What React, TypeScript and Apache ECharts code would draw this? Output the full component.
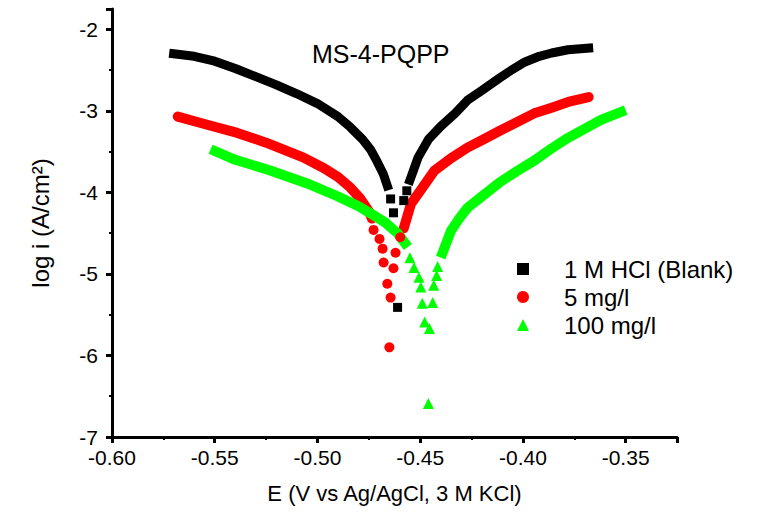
import React, { useEffect, useRef } from "react";
import * as echarts from "echarts";

// ---- Data (E in V vs Ag/AgCl, log i in A/cm2) ----
const blankCathodic: number[][] = [
  [-0.570, -2.30], [-0.560, -2.33], [-0.550, -2.39], [-0.540, -2.48], [-0.530, -2.58],
  [-0.520, -2.68], [-0.510, -2.79], [-0.500, -2.91], [-0.490, -3.07], [-0.484, -3.20],
  [-0.478, -3.35], [-0.474, -3.48], [-0.471, -3.62], [-0.468, -3.77], [-0.466, -3.92],
];
const blankAnodic: number[][] = [
  [-0.455, -3.85], [-0.451, -3.57], [-0.446, -3.35], [-0.440, -3.19], [-0.433, -3.03],
  [-0.427, -2.87], [-0.420, -2.75], [-0.411, -2.59], [-0.405, -2.49], [-0.399, -2.40],
  [-0.392, -2.33], [-0.386, -2.29], [-0.378, -2.25], [-0.368, -2.23],
];
const blankPoints: number[][] = [
  [-0.4644, -4.08], [-0.463, -4.25], [-0.461, -5.41], [-0.458, -4.10], [-0.4565, -3.98],
];

const mg5Cathodic: number[][] = [
  [-0.568, -3.07], [-0.555, -3.16], [-0.539, -3.27], [-0.525, -3.39], [-0.507, -3.57],
  [-0.497, -3.70], [-0.490, -3.81], [-0.484, -3.94], [-0.479, -4.08], [-0.475, -4.23],
  [-0.4735, -4.32],
];
const mg5Anodic: number[][] = [
  [-0.458, -4.44], [-0.4545, -4.14], [-0.450, -3.98], [-0.443, -3.73], [-0.435, -3.58],
  [-0.427, -3.45], [-0.420, -3.36], [-0.411, -3.24], [-0.403, -3.14], [-0.3945, -3.03],
  [-0.386, -2.96], [-0.378, -2.89], [-0.368, -2.83],
];
const mg5Points: number[][] = [
  [-0.4727, -4.46], [-0.4698, -4.57], [-0.4683, -4.69], [-0.4678, -4.86], [-0.466, -5.12],
  [-0.4644, -5.29], [-0.465, -5.90], [-0.463, -4.93], [-0.462, -4.74], [-0.4597, -4.55],
];

const mg100Cathodic: number[][] = [
  [-0.552, -3.47], [-0.540, -3.60], [-0.523, -3.73], [-0.505, -3.89], [-0.490, -4.05],
  [-0.480, -4.17], [-0.474, -4.26], [-0.467, -4.37], [-0.461, -4.50], [-0.456, -4.67],
];
const mg100Anodic: number[][] = [
  [-0.440, -4.80], [-0.435, -4.47], [-0.431, -4.32], [-0.427, -4.19], [-0.420, -4.05],
  [-0.411, -3.87], [-0.403, -3.74], [-0.3945, -3.61], [-0.386, -3.46], [-0.378, -3.33],
  [-0.370, -3.22], [-0.362, -3.11], [-0.350, -2.99],
];
const mg100Points: number[][] = [
  [-0.455, -4.80], [-0.453, -4.92], [-0.4506, -5.04], [-0.4497, -5.16], [-0.449, -5.36],
  [-0.4478, -5.59], [-0.4455, -5.67], [-0.446, -6.59], [-0.4439, -5.35], [-0.4434, -5.14],
  [-0.442, -5.02], [-0.4415, -4.91],
];

const seriesNames = ["1 M HCl (Blank)", "5 mg/l", "100 mg/l"];
const titleText = "MS-4-PQPP";
const xAxisName = "E (V vs Ag/AgCl, 3 M KCl)";
const yAxisName = "log i (A/cm²)";

const BLACK = "#000000";
const RED = "#ff0000";
const GREEN = "#00ff00";

export default function App() {
  const ref = useRef<HTMLDivElement>(null);
  useEffect(() => {
    if (!ref.current) return;
    const chart = echarts.init(ref.current, null, { renderer: "svg" });
    const font = "Liberation Sans, Arial, sans-serif";
    const lineSeries = (data: number[][], color: string, width: number, cap: string) => ({
      type: "line",
      data,
      showSymbol: false,
      symbol: "none",
      silent: true,
      lineStyle: { color, width, cap, join: "round" },
      z: 2,
    });
    const scatterSeries = (name: string, data: number[][], color: string, symbol: string, size: number) => ({
      type: "scatter",
      name,
      data,
      symbol,
      symbolSize: size,
      itemStyle: { color, opacity: 1 },
      z: 3,
    });
    chart.setOption({
      animation: false,
      backgroundColor: "#ffffff",
      textStyle: { fontFamily: font },
      title: {
        text: titleText,
        left: 307,
        top: 36,
        textStyle: { fontSize: 25, fontWeight: "normal", color: "#000", fontFamily: font },
      },
      legend: {
        data: [
          { name: seriesNames[0], icon: "rect" },
          { name: seriesNames[1], icon: "circle" },
          { name: seriesNames[2], icon: "triangle" },
        ],
        orient: "vertical",
        left: 512,
        top: 252,
        itemWidth: 12,
        itemHeight: 12,
        itemGap: 4,
        textStyle: { fontSize: 24, color: "#000", fontFamily: font, padding: [0, 0, 0, 30] },
      },
      grid: { left: 112, right: 84, top: 9, bottom: 77 },
      xAxis: {
        type: "value",
        min: -0.6,
        max: -0.325,
        interval: 0.05,
        name: xAxisName,
        nameLocation: "middle",
        nameGap: 45,
        nameTextStyle: { fontSize: 22, color: "#000", fontFamily: font },
        axisLine: { onZero: false, lineStyle: { color: "#000", width: 3 } },
        axisTick: { show: true, inside: false, length: 6, lineStyle: { color: "#000", width: 3 } },
        minorTick: { show: true, splitNumber: 2, length: 3, lineStyle: { color: "#000", width: 2 } },
        splitLine: { show: false },
        axisLabel: {
          fontSize: 21,
          color: "#000",
          margin: 10,
          showMaxLabel: false,
          formatter: (v: number) => v.toFixed(2),
        },
      },
      yAxis: {
        type: "value",
        min: -7,
        max: -1.75,
        interval: 1,
        name: yAxisName,
        nameLocation: "middle",
        nameGap: 60,
        nameTextStyle: { fontSize: 24, color: "#000", fontFamily: font },
        axisLine: { onZero: false, lineStyle: { color: "#000", width: 3 } },
        axisTick: { show: true, inside: false, length: 6, lineStyle: { color: "#000", width: 3 } },
        minorTick: { show: true, splitNumber: 2, length: 3, lineStyle: { color: "#000", width: 2 } },
        splitLine: { show: false },
        axisLabel: {
          fontSize: 21,
          color: "#000",
          margin: 14,
          showMaxLabel: false,
          formatter: (v: number) => String(Math.round(v)),
        },
      },
      series: [
        lineSeries(blankCathodic, BLACK, 9, "square"),
        lineSeries(blankAnodic, BLACK, 9, "square"),
        lineSeries(mg5Cathodic, RED, 10, "round"),
        lineSeries(mg5Anodic, RED, 10, "round"),
        lineSeries(mg100Cathodic, GREEN, 10, "butt"),
        lineSeries(mg100Anodic, GREEN, 10, "butt"),
        scatterSeries(seriesNames[0], blankPoints, BLACK, "rect", 9),
        scatterSeries(seriesNames[1], mg5Points, RED, "circle", 10),
        scatterSeries(seriesNames[2], mg100Points, GREEN, "triangle", 11),
      ],
    });
    return () => chart.dispose();
  }, []);
  return (
    <div
      ref={ref}
      style={{ position: "fixed", left: 0, top: 0, width: 761, height: 514, background: "#fff" }}
    />
  );
}
